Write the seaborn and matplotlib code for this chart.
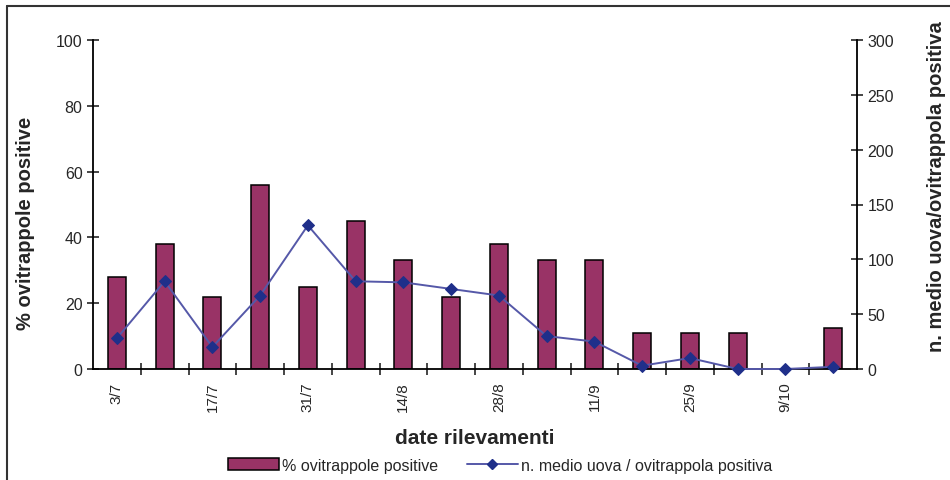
import numpy as np
import pandas as pd
import matplotlib
matplotlib.use("Agg")
import matplotlib.pyplot as plt
import seaborn as sns
from matplotlib.lines import Line2D
from matplotlib.patches import Patch

# dati
date = ["3/7", "10/7", "17/7", "24/7", "31/7", "7/8", "14/8", "21/8",
        "28/8", "4/9", "11/9", "18/9", "25/9", "2/10", "9/10", "16/10"]
perc_positive = [28, 38, 22, 56, 25, 45, 33, 22, 38, 33, 33, 11, 11, 11, 0, 12.5]
uova_medie = [28, 80, 20, 67, 131, 80, 79, 73, 67, 30, 25, 3, 10, 0, 0, 2]
etichette_x = ["3/7", "17/7", "31/7", "14/8", "28/8", "11/9", "25/9", "9/10"]

sns.set_style("white")
plt.rcParams['font.family'] = ['Liberation Sans', 'DejaVu Sans']

df = pd.DataFrame({"data": date, "perc": perc_positive, "uova": uova_medie,
                   "idx": np.arange(len(date))})

fig = plt.figure(figsize=(9.5, 4.81), dpi=100)
ax = fig.add_axes([93/950, 1 - 370/481, (857 - 93)/950, (370 - 41)/481])

bar_col = "#993366"
line_col = "#5558a8"
mark_col = "#1f2f8a"

sns.barplot(data=df, x="data", y="perc", color=bar_col, width=0.38,
            edgecolor="black", linewidth=1.1, saturation=1, ax=ax)
ax.set_xlim(-0.5, len(date) - 0.5)
ax.set_ylim(0, 100)
ax.set_yticks(np.arange(0, 101, 20))

ax2 = ax.twinx()
sns.lineplot(data=df, x="idx", y="uova", color=line_col, linewidth=1.4,
             marker="D", markersize=6.5, markerfacecolor=mark_col,
             markeredgecolor=mark_col, ax=ax2, clip_on=False, zorder=5)
ax2.set_xlim(-0.5, len(date) - 0.5)
ax2.set_ylim(0, 300)
ax2.set_yticks(np.arange(0, 301, 50))

# tick x ai confini delle categorie, etichette ogni due date
ax.set_xticks(np.arange(0.5, len(date) - 0.5, 1))
ax.set_xticklabels([])
ax.set_xticks([date.index(d) for d in etichette_x], minor=True)
ax.set_xticklabels(etichette_x, minor=True, rotation=90, fontsize=11)
ax.tick_params(axis="x", which="major", direction="inout", length=9, width=1.2,
               bottom=True)
ax.tick_params(axis="x", which="minor", length=0, pad=9, bottom=True)
ax.tick_params(axis="y", direction="inout", length=9, width=1.2, labelsize=11.5,
               left=True, pad=3)
ax2.tick_params(axis="y", direction="inout", length=9, width=1.2, labelsize=11.5,
                right=True, pad=3)

for a in (ax, ax2):
    for s in a.spines.values():
        s.set_color("black")
        s.set_linewidth(1.3)
    a.spines["top"].set_visible(False)
ax2.spines["left"].set_visible(False)
ax2.spines["bottom"].set_visible(False)
ax.spines["right"].set_visible(False)

ax.set_xlabel("date rilevamenti", fontsize=15, fontweight="bold", labelpad=12)
ax.set_ylabel("% ovitrappole positive", fontsize=14.5, fontweight="bold")
ax.yaxis.set_label_coords(-58/764, (370 - 223)/329)
ax2.set_ylabel("n. medio uova/ovitrappola positiva", fontsize=14.5,
               fontweight="bold")
ax2.yaxis.set_label_coords(1 + 70/764, (370 - 187)/329)
ax.grid(False)
ax2.grid(False)

handles = [Patch(facecolor=bar_col, edgecolor="black", linewidth=1.1),
           Line2D([0], [0], color=line_col, linewidth=1.4, marker="D",
                  markersize=5, markerfacecolor=mark_col, markeredgecolor=mark_col)]
fig.legend(handles, ["% ovitrappole positive", "n. medio uova / ovitrappola positiva"],
           loc="center", bbox_to_anchor=(500/950, 1 - 466/481), ncol=2,
           frameon=False, fontsize=11.5, handlelength=3.2, handletextpad=0.2,
           columnspacing=1.8)

# cornice esterna
fig.add_artist(Line2D([7/950, 1], [1 - 7/481, 1 - 7/481], color="#333333",
                      linewidth=1.5, transform=fig.transFigure))
fig.add_artist(Line2D([7/950, 7/950], [0, 1 - 7/481], color="#333333",
                      linewidth=1.5, transform=fig.transFigure))

fig.savefig("out.png", dpi=100)
